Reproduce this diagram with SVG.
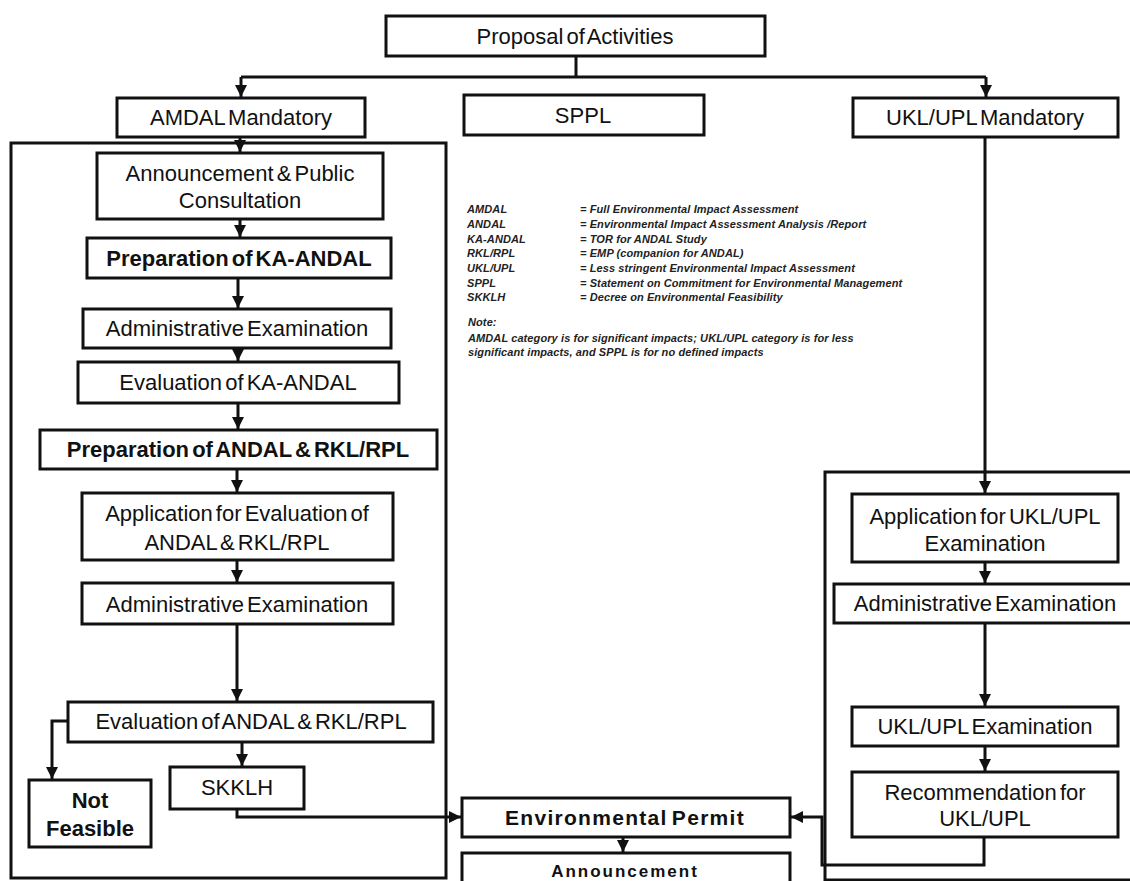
<svg xmlns="http://www.w3.org/2000/svg" width="1130" height="881" viewBox="0 0 1130 881">
<style>
  .box{fill:#fff;stroke:#111;stroke-width:3}
  .cont{fill:none;stroke:#111;stroke-width:3}
  .lbl{font-family:"Liberation Sans",Arial,sans-serif;font-size:22px;fill:#111;text-anchor:middle;word-spacing:-3px}
  .b{font-weight:bold}
  .conn{fill:none;stroke:#111;stroke-width:3}
  .leg{font-family:"Liberation Sans",Arial,sans-serif;font-size:11px;font-style:italic;font-weight:bold;fill:#222;letter-spacing:0.1px}
</style>
<defs>
  <marker id="ah" markerUnits="userSpaceOnUse" markerWidth="12" markerHeight="12" viewBox="0 0 10 10" refX="10" refY="5" orient="auto">
    <path d="M0,0 L10,5 L0,10 Z" fill="#111"/>
  </marker>
</defs>
<rect width="1130" height="881" fill="#fff"/>

<g id="containers">
  <rect class="cont" x="11" y="143" width="435" height="735"/>
  <rect class="cont" x="825" y="472" width="320" height="408"/>
</g>

<g id="connectors">
  <path class="conn" d="M576,56 V77"/>
  <path class="conn" d="M241,77 H986"/>
  <path class="conn" d="M241,77 V97" marker-end="url(#ah)"/>
  <path class="conn" d="M986,77 V97" marker-end="url(#ah)"/>
  <path class="conn" d="M240,137 V152" marker-end="url(#ah)"/>
  <path class="conn" d="M240,219 V237" marker-end="url(#ah)"/>
  <path class="conn" d="M238,278 V308" marker-end="url(#ah)"/>
  <path class="conn" d="M238,348 V361" marker-end="url(#ah)"/>
  <path class="conn" d="M238,403 V429" marker-end="url(#ah)"/>
  <path class="conn" d="M237,469 V492" marker-end="url(#ah)"/>
  <path class="conn" d="M237,560 V582" marker-end="url(#ah)"/>
  <path class="conn" d="M237,624 V701" marker-end="url(#ah)"/>
  <path class="conn" d="M242,742 V766" marker-end="url(#ah)"/>
  <path class="conn" d="M68,721 H52 V779" marker-end="url(#ah)"/>
  <path class="conn" d="M237,809 V817 H461" marker-end="url(#ah)"/>
  <path class="conn" d="M985,137 V493" marker-end="url(#ah)"/>
  <path class="conn" d="M985,562 V583" marker-end="url(#ah)"/>
  <path class="conn" d="M985,623 V706" marker-end="url(#ah)"/>
  <path class="conn" d="M985,746 V771" marker-end="url(#ah)"/>
  <path class="conn" d="M984,837 V865 H822 V817 H791" marker-end="url(#ah)"/>
  <path class="conn" d="M623,837 V852" marker-end="url(#ah)"/>
</g>

<g id="proposal">
  <rect class="box" x="386" y="16" width="379" height="40"/>
  <text class="lbl" x="575" y="44">Proposal of Activities</text>
</g>
<g id="amdal-mandatory">
  <rect class="box" x="117" y="98" width="248" height="39"/>
  <text class="lbl" x="241" y="125">AMDAL Mandatory</text>
</g>
<g id="sppl">
  <rect class="box" x="464" y="95" width="240" height="40"/>
  <text class="lbl" x="583" y="123">SPPL</text>
</g>
<g id="ukl-mandatory">
  <rect class="box" x="853" y="98" width="265" height="39"/>
  <text class="lbl" x="985" y="125">UKL/UPL Mandatory</text>
</g>

<g id="announcement-public">
  <rect class="box" x="97" y="153" width="286" height="66"/>
  <text class="lbl" x="240" y="181">Announcement &amp; Public</text>
  <text class="lbl" x="240" y="208">Consultation</text>
</g>
<g id="prep-ka-andal">
  <rect class="box" x="87" y="238" width="304" height="40"/>
  <text class="lbl b" x="239" y="266">Preparation of KA-ANDAL</text>
</g>
<g id="admin-exam-1">
  <rect class="box" x="83" y="309" width="308" height="39"/>
  <text class="lbl" x="237" y="336">Administrative Examination</text>
</g>
<g id="eval-ka-andal">
  <rect class="box" x="78" y="362" width="321" height="41"/>
  <text class="lbl" x="238" y="390">Evaluation of KA-ANDAL</text>
</g>
<g id="prep-andal">
  <rect class="box" x="40" y="430" width="397" height="39"/>
  <text class="lbl b" x="238" y="457">Preparation of ANDAL &amp; RKL/RPL</text>
</g>
<g id="app-eval">
  <rect class="box" x="82" y="493" width="311" height="67"/>
  <text class="lbl" x="237" y="521">Application for Evaluation of</text>
  <text class="lbl" x="237" y="550">ANDAL &amp; RKL/RPL</text>
</g>
<g id="admin-exam-2">
  <rect class="box" x="82" y="583" width="311" height="41"/>
  <text class="lbl" x="237" y="612">Administrative Examination</text>
</g>
<g id="eval-andal">
  <rect class="box" x="68" y="702" width="365" height="40"/>
  <text class="lbl" x="251" y="729">Evaluation of ANDAL &amp; RKL/RPL</text>
</g>
<g id="skklh">
  <rect class="box" x="170" y="767" width="134" height="42"/>
  <text class="lbl" x="237" y="795">SKKLH</text>
</g>
<g id="not-feasible">
  <rect class="box" x="29" y="780" width="122" height="67"/>
  <text class="lbl b" x="90" y="808">Not</text>
  <text class="lbl b" x="90" y="836">Feasible</text>
</g>

<g id="env-permit">
  <rect class="box" x="462" y="798" width="328" height="39"/>
  <text class="lbl b" x="625" y="825" style="letter-spacing:1.3px;font-size:21px">Environmental Permit</text>
</g>
<g id="announcement">
  <rect class="box" x="462" y="853" width="328" height="50"/>
  <text class="lbl b" x="625" y="877" style="letter-spacing:2px;font-size:17px">Announcement</text>
</g>

<g id="app-ukl">
  <rect class="box" x="852" y="494" width="266" height="68"/>
  <text class="lbl" x="985" y="524">Application for UKL/UPL</text>
  <text class="lbl" x="985" y="551">Examination</text>
</g>
<g id="admin-exam-ukl">
  <rect class="box" x="834" y="584" width="310" height="39"/>
  <text class="lbl" x="985" y="611">Administrative Examination</text>
</g>
<g id="ukl-exam">
  <rect class="box" x="852" y="707" width="266" height="39"/>
  <text class="lbl" x="985" y="734">UKL/UPL Examination</text>
</g>
<g id="recommendation">
  <rect class="box" x="852" y="772" width="266" height="65"/>
  <text class="lbl" x="985" y="800">Recommendation for</text>
  <text class="lbl" x="985" y="826">UKL/UPL</text>
</g>

<g id="legend">
  <text class="leg" x="467" y="213">AMDAL</text>
  <text class="leg" x="580" y="213">= Full Environmental Impact Assessment</text>
  <text class="leg" x="467" y="228">ANDAL</text>
  <text class="leg" x="580" y="228">= Environmental Impact Assessment Analysis /Report</text>
  <text class="leg" x="467" y="243">KA-ANDAL</text>
  <text class="leg" x="580" y="243">= TOR for ANDAL Study</text>
  <text class="leg" x="467" y="257">RKL/RPL</text>
  <text class="leg" x="580" y="257">= EMP (companion for ANDAL)</text>
  <text class="leg" x="467" y="272">UKL/UPL</text>
  <text class="leg" x="580" y="272">= Less stringent Environmental Impact Assessment</text>
  <text class="leg" x="467" y="287">SPPL</text>
  <text class="leg" x="580" y="287">= Statement on Commitment for Environmental Management</text>
  <text class="leg" x="467" y="301">SKKLH</text>
  <text class="leg" x="580" y="301">= Decree on Environmental Feasibility</text>
  <text class="leg" x="468" y="326">Note:</text>
  <text class="leg" x="468" y="342">AMDAL category is for significant impacts; UKL/UPL category is for less</text>
  <text class="leg" x="468" y="356">significant impacts, and SPPL is for no defined impacts</text>
</g>
</svg>
